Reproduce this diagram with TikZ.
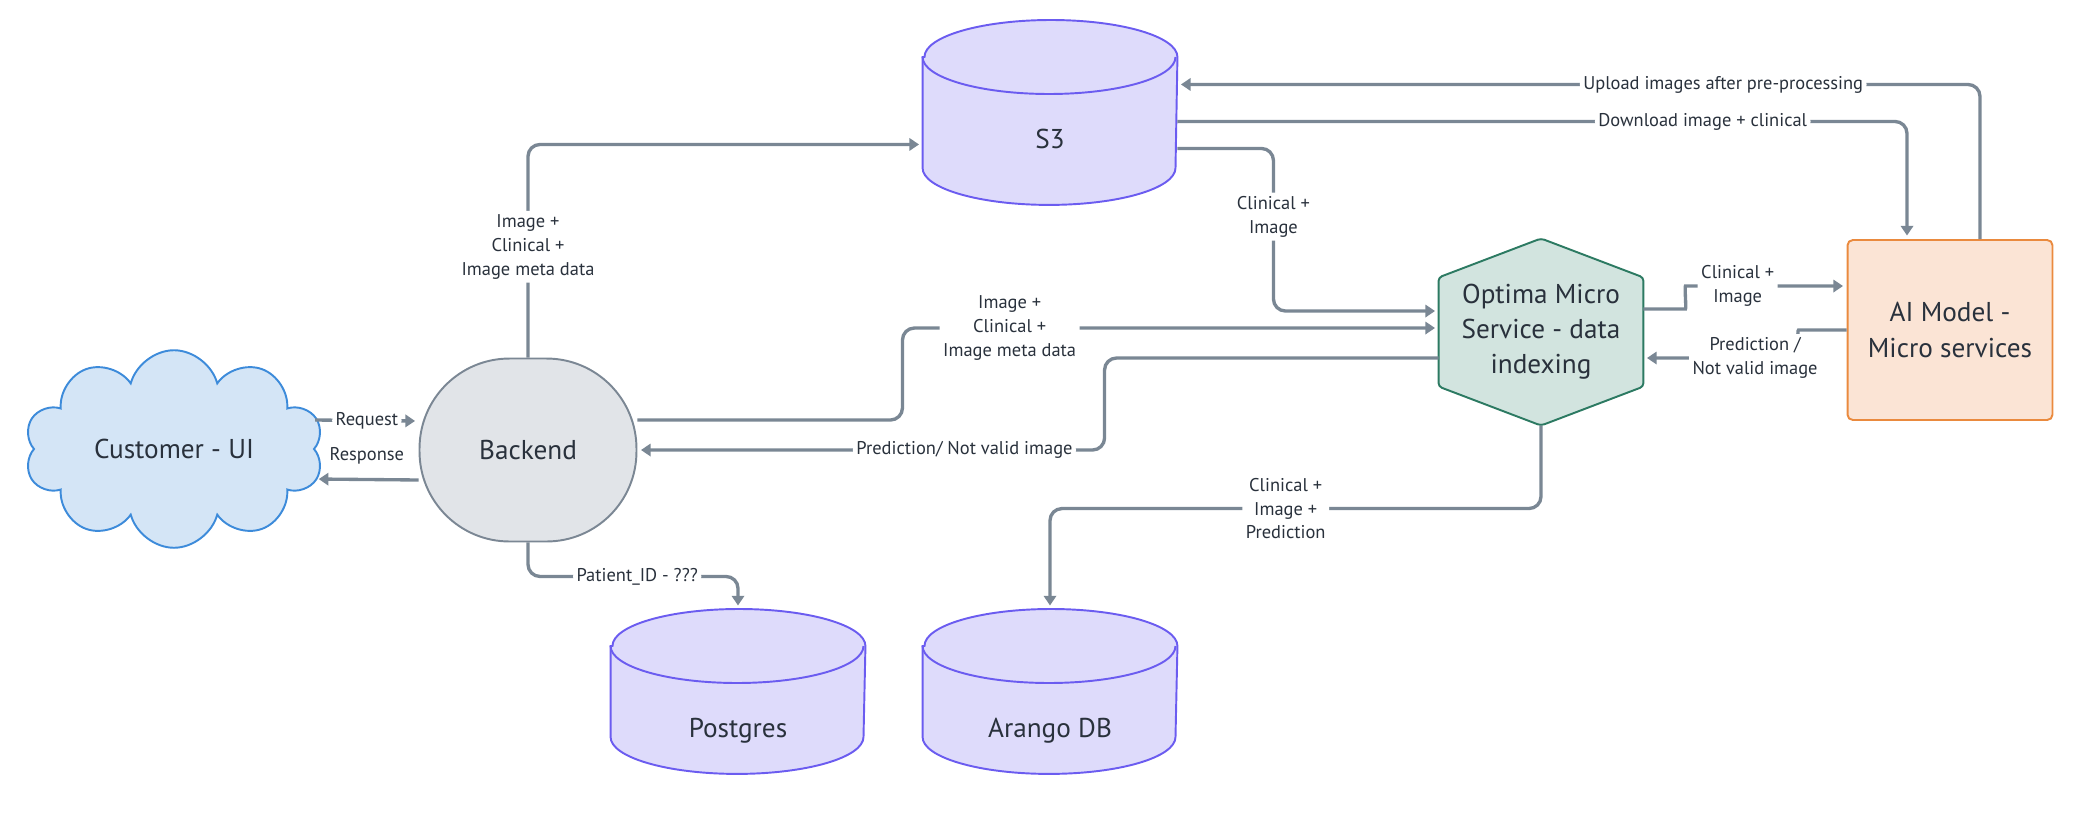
\documentclass[tikz,border=0pt]{standalone}
\usepackage{fontspec}
\setmainfont{PT Sans}
\usetikzlibrary{backgrounds,arrows.meta,shapes.symbols}

\definecolor{inkc}{HTML}{29313C}
\definecolor{flowc}{HTML}{7A8794}
\definecolor{dbfill}{HTML}{DEDBFB}
\definecolor{dbline}{HTML}{6B5CF0}
\definecolor{cloudfill}{HTML}{D4E5F6}
\definecolor{cloudline}{HTML}{3D8BDA}
\definecolor{bkfill}{HTML}{E1E4E8}
\definecolor{bkline}{HTML}{7B8794}
\definecolor{hexfill}{HTML}{D2E4DF}
\definecolor{hexline}{HTML}{2C7A62}
\definecolor{aifill}{HTML}{FBE4D5}
\definecolor{ailine}{HTML}{EA8A3E}

\tikzset{
  box/.style={text=inkc, font=\fontsize{15.5}{20}\selectfont, align=center, line width=1.1pt},
  db/.style={box, anchor=north, inner sep=0pt, minimum width=5.06cm, text height=2.56cm},
  dbpaint/.style={draw=dbline, fill=dbfill, line width=1.1pt},
  dbcap/.style={x radius=2.53cm, y radius=0.74cm},
  flow/.style={draw=flowc, line width=1.9pt, rounded corners=0.24cm, -{Triangle[length=5.5pt,width=7pt]}, shorten >=2pt},
  lbl/.style={fill=white, text=inkc, font=\fontsize{10.5}{13.6}\selectfont, align=center, inner sep=2pt},
}

\begin{document}
\begin{tikzpicture}[x=0.02cm,y=-0.02cm]
    \useasboundingbox (0,0) rectangle (2077,816);

    \node[box, cloud, cloud puffs=10, aspect=1.65, draw=cloudline, fill=cloudfill, minimum width=5.98cm, minimum height=3.64cm] (cu) at (174,449) {Customer - UI};
    \node[box, draw=bkline, fill=bkfill, rounded corners=1.8cm, minimum width=4.34cm, minimum height=3.66cm] (bk) at (528,450) {Backend};
    \node[db, text depth=1.10cm] (s3) at (1050,20) {S3};
    \node[db, text depth=0.70cm] (pg) at (738,609) {Postgres};
    \node[db, text depth=0.70cm] (ar) at (1050,609) {Arango DB};
    \node[box, minimum width=4.06cm, minimum height=1.92cm] (opt) at (1541,332) {Optima Micro\\Service - data\\indexing};
    \node[box, draw=ailine, fill=aifill, rounded corners=3pt, minimum width=4.1cm, minimum height=3.6cm] (ai) at (1950,330) {AI Model -\\Micro services};

    \coordinate (optt) at ([yshift=0.78cm]opt.north);
    \coordinate (optb) at ([yshift=-0.78cm]opt.south);
    \begin{scope}[on background layer]
        \draw[hexline, fill=hexfill, line width=1.1pt, rounded corners=2pt] (opt.north west) -- (optt) -- (opt.north east) -- (opt.south east) -- (optb) -- (opt.south west) -- cycle;
        \foreach \n in {s3,pg,ar}{
            \path[dbpaint] ([yshift=-0.74cm]\n.north west) -- ([yshift=0.74cm]\n.south west) arc[dbcap, start angle=180, end angle=360] -- ([yshift=-0.74cm]\n.north east) arc[dbcap, start angle=0, end angle=180] -- cycle;
            \draw[dbline, line width=1.1pt] ([yshift=-0.74cm]\n.north west) arc[dbcap, start angle=180, end angle=360];
        }
    \end{scope}

    \draw[flow] ([yshift=.58cm]cu.east) -- node[lbl]{Request} ([yshift=.58cm]bk.west);
    \draw[flow] ([yshift=-.6cm]bk.west) -- node[lbl, fill=none, above=.2cm]{Response} ([yshift=-.6cm]cu.east);
    \draw[flow] (bk.north) |- node[lbl, pos=.26]{Image +\\Clinical +\\Image meta data} ([yshift=-.64cm]s3.west);
    \draw[flow] ([yshift=.6cm]bk.east) -- ++(265,0) |- node[lbl, pos=.6]{Image +\\Clinical +\\Image meta data} ([yshift=.08cm]opt.west);
    \draw[flow] ([yshift=-.52cm]opt.west) -- ++(-334,0) |- node[lbl, pos=.65]{Prediction/ Not valid image} (bk.east);
    \draw[flow] ([yshift=-.72cm]s3.east) -- ++(96,0) |- node[lbl, pos=.21]{Clinical +\\Image} ([yshift=.42cm]opt.west);
    \draw[flow] ([xshift=.6cm]ai.north) |- node[lbl, pos=.66]{Upload images after pre-processing} ([yshift=.56cm]s3.east);
    \draw[flow] ([yshift=-.18cm]s3.east) -| node[lbl, pos=.36]{Download image + clinical} ([xshift=-.86cm]ai.north);
    \draw[flow] ([yshift=.46cm]opt.east) -- ++(30,0) to[out=0,in=180] ++(24,-23) -- node[lbl, pos=.27]{Clinical +\\Image} ([yshift=.88cm]ai.west);
    \draw[flow] (ai.west) -- ++(-36,0) to[out=180,in=0] ++(-24,28) -- node[lbl, pos=.22]{Prediction /\\Not valid image} ([yshift=-.52cm]opt.east);
    \draw[flow] (optb) -- ++(0,83) -| node[lbl, pos=.26]{Clinical +\\Image +\\Prediction} (ar.north);
    \draw[flow] (bk.south) -- ++(0,34) -| node[lbl, pos=.26]{Patient\_ID - ???} (pg.north);
\end{tikzpicture}
\end{document}
